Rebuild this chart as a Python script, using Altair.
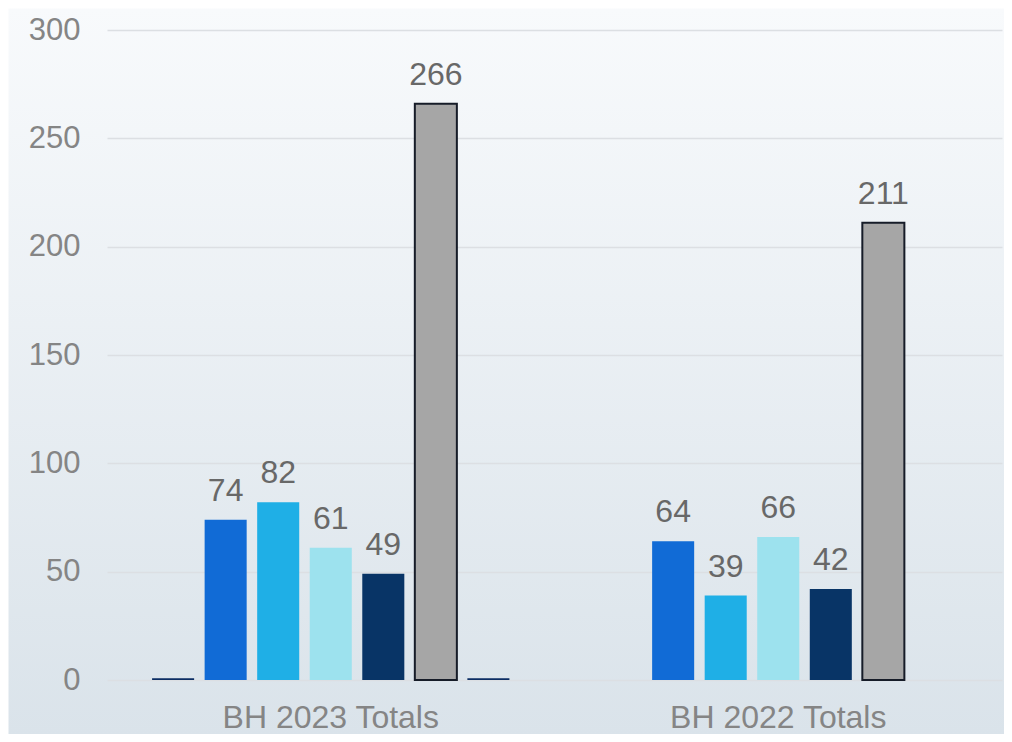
import altair as alt
import pandas as pd

# ---- data ----
groups = ["BH 2023 Totals", "BH 2022 Totals"]
slots_2023 = [-3, -2, -1, 0, 1, 2, 3]
values_2023 = [0.8, 74, 82, 61, 49, 266, 0.8]
slots_2022 = [-2, -1, 0, 1, 2]
values_2022 = [64, 39, 66, 42, 211]
slot_domain = [-3, -2, -1, 0, 1, 2, 3]
slot_colors = ["#0b2d63", "#116bd6", "#1fafe6", "#9de2ee", "#083466", "#a6a6a6", "#0b2d63"]
labelled_slots = [-2, -1, 0, 1, 2]
y_ticks = [0, 50, 100, 150, 200, 250, 300]

rows = []
for s, v in zip(slots_2023, values_2023):
    rows.append({"group": groups[0], "slot": s, "value": v, "label": s in labelled_slots})
for s, v in zip(slots_2022, values_2022):
    rows.append({"group": groups[1], "slot": s, "value": v, "label": s in labelled_slots})
df = pd.DataFrame(rows)

FONT = "Liberation Sans"
W, H = 996, 726

x_enc = alt.X(
    "group:N",
    sort=groups,
    scale=alt.Scale(domain=groups, range=[99, 994], paddingInner=0.178, paddingOuter=0.089),
    axis=alt.Axis(orient="bottom", offset=-54, domain=False, ticks=False, grid=False,
                  labelAngle=0, labelLimit=600, labelBaseline="top",
                  labelPadding=22, labelFontSize=32, labelColor="#858585", labelFont=FONT,
                  title=None),
)
xoff_enc = alt.XOffset("slot:O", scale=alt.Scale(domain=slot_domain, paddingInner=0.2, paddingOuter=0.1))
y_enc = alt.Y(
    "value:Q",
    scale=alt.Scale(domain=[0, 300], range=[672, 22], nice=False),
    axis=alt.Axis(orient="left", offset=-99, values=y_ticks, domain=False, ticks=False,
                  labelPadding=27, labelFontSize=31, labelColor="#858585", labelFont=FONT,
                  grid=True, gridColor="#dcdfe3", gridWidth=1.5, title=None),
)

bars = alt.Chart(df).mark_bar(stroke="#161c28").encode(
    x=x_enc,
    xOffset=xoff_enc,
    y=y_enc,
    color=alt.Color("slot:O", scale=alt.Scale(domain=slot_domain, range=slot_colors), legend=None),
    strokeWidth=alt.condition("datum.slot == 2", alt.value(2), alt.value(0)),
)

labels = alt.Chart(df).transform_filter("datum.label").mark_text(
    fontSize=32, font=FONT, color="#686868", baseline="alphabetic", dy=-19
).encode(
    x=x_enc,
    xOffset=xoff_enc,
    y=y_enc,
    text=alt.Text("value:Q", format="d"),
)

grad = ("{gradient: 'linear', x1: 0, y1: 0, x2: 0, y2: 1, "
        "stops: [{offset: 0, color: '#f8fafc'}, {offset: 1, color: '#dae3ea'}]}")

chart = alt.layer(bars, labels).properties(
    width=W, height=H, autosize=alt.AutoSizeParams(type="none"), padding=0
).configure_view(fill={"expr": grad}, stroke="transparent")

chart.save("out.html", embed_options={"renderer": "svg", "actions": False})
